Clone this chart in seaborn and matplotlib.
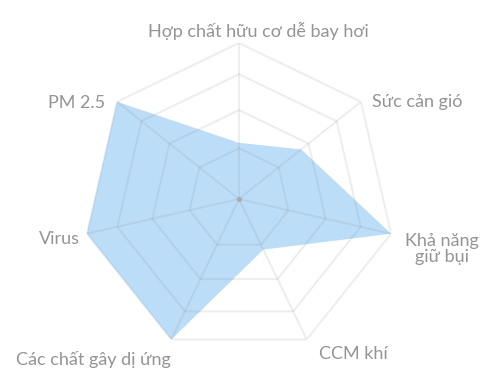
import numpy as np
import matplotlib
matplotlib.use("Agg")
import matplotlib.pyplot as plt
import seaborn as sns

# ---- data ----
categories = ["Hợp chất hữu cơ dễ bay hơi", "Sức cản gió", "Khả năng\ngiữ bụi",
              "CCM khí", "Các chất gây dị ứng", "Virus", "PM 2.5"]
values = [0.36, 0.51, 1.0, 0.36, 1.0, 1.0, 1.0]
ring_levels = [0.325, 0.57, 0.80, 1.0]

sns.set_theme(style="white")
plt.rcParams['font.family'] = ['Lato', 'DejaVu Sans']

W, H = 492, 390
CX, CY, R = 239, 199, 156  # pixel centre / radius of the radar
fig = plt.figure(figsize=(W / 100, H / 100), dpi=100)
ax = fig.add_axes([(CX - R) / W, (H - CY - R) / H, 2 * R / W, 2 * R / H], projection="polar")
ax.set_theta_offset(np.pi / 2)
ax.set_theta_direction(-1)
ax.set_ylim(0, 1)
ax.set_axis_off()

n = len(categories)
angles = np.arange(n) * 2 * np.pi / n
closed = np.concatenate([angles, angles[:1]])

# data fill
vals = np.array(values + values[:1])
ax.fill(closed, vals, color="#bbddf8", zorder=1, lw=0)

# polygon grid
grid_kw = dict(color="#8a8a8a", alpha=0.15, lw=1.4, zorder=2)
for lvl in ring_levels:
    ax.plot(closed, [lvl] * (n + 1), **grid_kw)
for a in angles:
    ax.plot([a, a], [0, 1], **grid_kw)
ax.plot([0], [0], marker="o", ms=2.5, color="#aaaaaa", zorder=3)

# labels: (pixel x, pixel y, ha)
label_pos = [(258, 31, "center"), (372, 102, "left"), (442, 249, "center"),
             (353, 354, "center"), (93, 359, "center"), (80, 239, "right"),
             (105, 103, "right")]
for lab, (px, py, ha) in zip(categories, label_pos):
    dx, dy = px - CX, CY - py
    r = np.hypot(dx, dy) / R
    th = np.pi / 2 - np.arctan2(dy, dx)
    ax.text(th, r, lab, ha=ha, va="center", fontsize=13, color="#949494",
            linespacing=0.95, multialignment="center")

fig.savefig("out.png", dpi=100, facecolor="white")
